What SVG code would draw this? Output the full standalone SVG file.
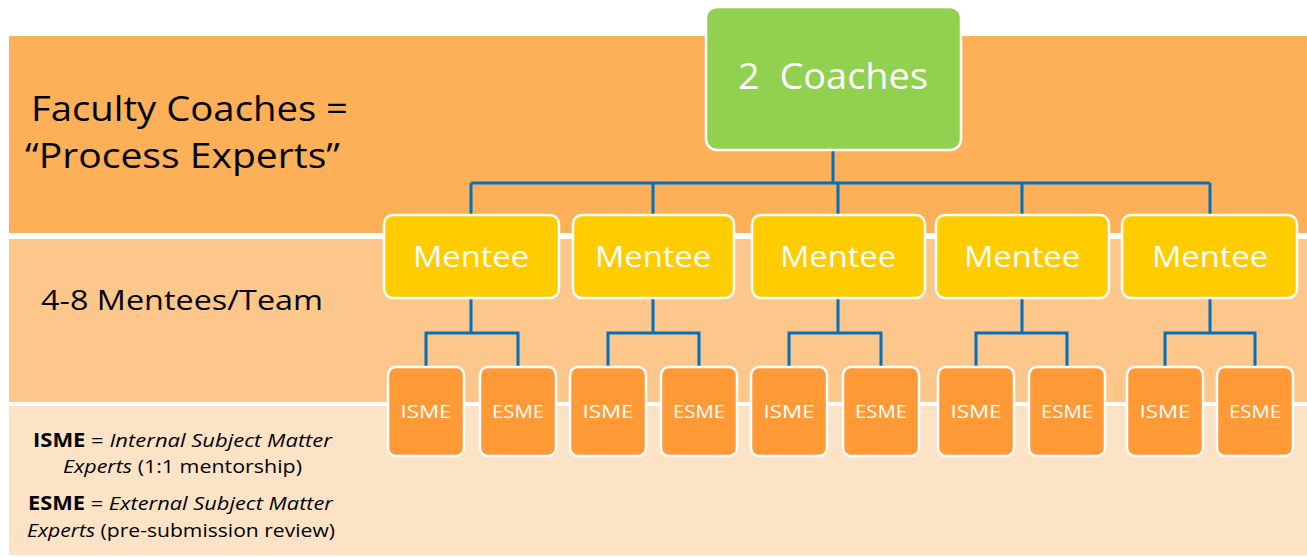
<svg xmlns="http://www.w3.org/2000/svg" width="1307" height="557" viewBox="0 0 1307 557">
<style>
.band{stroke:none}
.lbl{font-family:"Open Sans","Noto Sans","Liberation Sans",sans-serif;fill:#000}
.coach{fill:#92D050;stroke:#fff;stroke-width:2.5}
.mentee{fill:#FFCC00;stroke:#fff;stroke-width:2.5}
.sme{fill:#FF9A36;stroke:#fff;stroke-width:2.5}
.wt{font-family:"Open Sans","Noto Sans","Liberation Sans",sans-serif;fill:#fff;text-anchor:middle}
.conn{fill:none;stroke:#0070C0;stroke-width:3}
</style>
<rect width="1307" height="557" fill="#fff"/>
<g id="bands">
<rect class="band" x="9" y="36" width="1298" height="197" fill="#FDB057"/>
<rect class="band" x="9" y="239" width="1298" height="163" fill="#FDC78B"/>
<rect class="band" x="9" y="406" width="1298" height="149" fill="#FDE3C6"/>
</g>
<g id="band-labels">
<text class="lbl" x="31" y="121" font-size="35" textLength="317" lengthAdjust="spacingAndGlyphs">Faculty Coaches =</text>
<text class="lbl" x="25" y="168" font-size="35" textLength="315" lengthAdjust="spacingAndGlyphs">“Process Experts”</text>
<text class="lbl" x="41" y="310" font-size="28" textLength="282" lengthAdjust="spacingAndGlyphs">4-8 Mentees/Team</text>
<text class="lbl" x="33" y="447" font-size="19" textLength="299" lengthAdjust="spacingAndGlyphs"><tspan font-weight="bold">ISME</tspan> = <tspan font-style="italic">Internal Subject Matter</tspan></text>
<text class="lbl" x="63" y="473" font-size="19" textLength="239" lengthAdjust="spacingAndGlyphs"><tspan font-style="italic">Experts</tspan> (1:1 mentorship)</text>
<text class="lbl" x="28" y="510" font-size="19" textLength="305" lengthAdjust="spacingAndGlyphs"><tspan font-weight="bold">ESME</tspan> = <tspan font-style="italic">External Subject Matter</tspan></text>
<text class="lbl" x="27" y="537" font-size="19" textLength="308" lengthAdjust="spacingAndGlyphs"><tspan font-style="italic">Experts</tspan> (pre-submission review)</text>
</g>
<g id="connectors">
<path class="conn" d="M833 150V183M471 183H1210M471 183V215M653 183V215M838 183V215M1022 183V215M1210 183V215"/>
<path class="conn" d="M471 298V333M426 367V333H518V367"/>
<path class="conn" d="M653 298V333M608 367V333H699V367"/>
<path class="conn" d="M838 298V333M789 367V333H881V367"/>
<path class="conn" d="M1022 298V333M976 367V333H1067V367"/>
<path class="conn" d="M1210 298V333M1165 367V333H1255V367"/>
</g>
<g id="coaches">
<rect class="coach" x="706" y="7" width="255" height="143" rx="11"/>
<text class="wt" x="833" y="89" font-size="36" textLength="190" lengthAdjust="spacingAndGlyphs">2&#160; Coaches</text>
</g>
<g id="mentee1"><rect class="mentee" x="384" y="215" width="175" height="83" rx="9"/><text class="wt" x="471" y="267" font-size="29" textLength="116" lengthAdjust="spacingAndGlyphs">Mentee</text></g>
<g id="mentee2"><rect class="mentee" x="573" y="215" width="161" height="83" rx="9"/><text class="wt" x="653" y="267" font-size="29" textLength="116" lengthAdjust="spacingAndGlyphs">Mentee</text></g>
<g id="mentee3"><rect class="mentee" x="752" y="215" width="173" height="83" rx="9"/><text class="wt" x="838" y="267" font-size="29" textLength="116" lengthAdjust="spacingAndGlyphs">Mentee</text></g>
<g id="mentee4"><rect class="mentee" x="936" y="215" width="173" height="83" rx="9"/><text class="wt" x="1022" y="267" font-size="29" textLength="116" lengthAdjust="spacingAndGlyphs">Mentee</text></g>
<g id="mentee5"><rect class="mentee" x="1122" y="215" width="175" height="83" rx="9"/><text class="wt" x="1210" y="267" font-size="29" textLength="116" lengthAdjust="spacingAndGlyphs">Mentee</text></g>
<g id="isme1"><rect class="sme" x="388" y="367" width="76" height="89" rx="8"/><text class="wt" x="426" y="418" font-size="19" textLength="51" lengthAdjust="spacingAndGlyphs">ISME</text></g>
<g id="esme1"><rect class="sme" x="480" y="367" width="76" height="89" rx="8"/><text class="wt" x="518" y="418" font-size="19" textLength="52" lengthAdjust="spacingAndGlyphs">ESME</text></g>
<g id="isme2"><rect class="sme" x="570" y="367" width="76" height="89" rx="8"/><text class="wt" x="608" y="418" font-size="19" textLength="51" lengthAdjust="spacingAndGlyphs">ISME</text></g>
<g id="esme2"><rect class="sme" x="661" y="367" width="76" height="89" rx="8"/><text class="wt" x="699" y="418" font-size="19" textLength="52" lengthAdjust="spacingAndGlyphs">ESME</text></g>
<g id="isme3"><rect class="sme" x="751" y="367" width="76" height="89" rx="8"/><text class="wt" x="789" y="418" font-size="19" textLength="51" lengthAdjust="spacingAndGlyphs">ISME</text></g>
<g id="esme3"><rect class="sme" x="843" y="367" width="76" height="89" rx="8"/><text class="wt" x="881" y="418" font-size="19" textLength="52" lengthAdjust="spacingAndGlyphs">ESME</text></g>
<g id="isme4"><rect class="sme" x="938" y="367" width="76" height="89" rx="8"/><text class="wt" x="976" y="418" font-size="19" textLength="51" lengthAdjust="spacingAndGlyphs">ISME</text></g>
<g id="esme4"><rect class="sme" x="1029" y="367" width="76" height="89" rx="8"/><text class="wt" x="1067" y="418" font-size="19" textLength="52" lengthAdjust="spacingAndGlyphs">ESME</text></g>
<g id="isme5"><rect class="sme" x="1127" y="367" width="76" height="89" rx="8"/><text class="wt" x="1165" y="418" font-size="19" textLength="51" lengthAdjust="spacingAndGlyphs">ISME</text></g>
<g id="esme5"><rect class="sme" x="1217" y="367" width="76" height="89" rx="8"/><text class="wt" x="1255" y="418" font-size="19" textLength="52" lengthAdjust="spacingAndGlyphs">ESME</text></g>
</svg>
